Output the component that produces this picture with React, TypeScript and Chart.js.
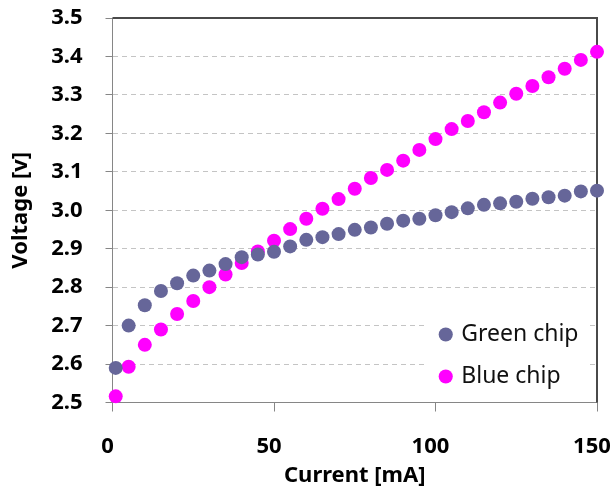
import React, { useEffect, useRef } from "react";
import { Chart, registerables } from "chart.js";

Chart.register(...registerables);

// ---- data ----
const currentMA = [1, 5, 10, 15, 20, 25, 30, 35, 40, 45, 50, 55, 60, 65, 70, 75, 80, 85, 90, 95, 100, 105, 110, 115, 120, 125, 130, 135, 140, 145, 150];
const greenChip = [2.59, 2.70, 2.753, 2.79, 2.81, 2.83, 2.843, 2.86, 2.878, 2.885, 2.892, 2.906, 2.923, 2.930, 2.938, 2.949, 2.955, 2.965, 2.973, 2.978, 2.987, 2.995, 3.005, 3.014, 3.018, 3.022, 3.030, 3.034, 3.038, 3.049, 3.051];
const blueChip = [2.516, 2.593, 2.65, 2.69, 2.73, 2.764, 2.80, 2.833, 2.863, 2.893, 2.921, 2.951, 2.978, 3.004, 3.029, 3.056, 3.084, 3.105, 3.129, 3.157, 3.185, 3.211, 3.232, 3.255, 3.280, 3.303, 3.323, 3.346, 3.368, 3.391, 3.412];
const seriesLabels = ["Green chip", "Blue chip"];
const xAxisTitle = "Current [mA]";
const yAxisTitle = "Voltage [v]";
const xRange = [0, 150];
const xStep = 50;
const yRange = [2.5, 3.5];
const yStep = 0.1;

// ---- styles ----
const FONT = "'Noto Sans', 'DejaVu Sans', sans-serif";
const GREEN = "#666699";
const MAGENTA = "#ff00ff";
const AXIS = "#868686";
const GRID = "#c4c4c4";
const FRAME = "#4a4a4a";

const framePlugin = {
  id: "frame",
  beforeDatasetsDraw(chart: any) {
    const { ctx, chartArea: a } = chart;
    ctx.save();
    ctx.strokeStyle = FRAME;
    ctx.lineWidth = 2;
    ctx.beginPath();
    ctx.moveTo(a.left, Math.round(a.top));
    ctx.lineTo(Math.round(a.right), Math.round(a.top));
    ctx.lineTo(Math.round(a.right), a.bottom);
    ctx.stroke();
    ctx.restore();
  },
};

const legendPlacer = {
  id: "legendPlacer",
  afterLayout(chart: any) {
    const lg = chart.legend;
    if (!lg || !lg.columnSizes || !lg.columnSizes.length) return;
    const a = chart.chartArea;
    const pad = lg.options.labels.padding;
    const col = lg.columnSizes[0];
    const x = a.right - col.width - 18.5;
    const y = a.bottom - 14.5 - (col.height - pad);
    lg.left = x - pad;
    lg.top = y - pad;
    lg.right = chart.width;
    lg.bottom = chart.height;
    lg.width = lg.right - lg.left;
    lg.height = lg.bottom - lg.top;
    if (!lg._bgWrapped) {
      const orig = lg.draw;
      lg.draw = function (ca: any) {
        const c = this.ctx;
        const cs = this.columnSizes[0];
        const p = this.options.labels.padding;
        const lx = this.left + p;
        const ly = this.top + p;
        c.save();
        c.fillStyle = "#ffffff";
        c.fillRect(lx - 16, ly - 10, cs.width + 24.5, cs.height - p + 18);
        c.restore();
        orig.call(this, ca);
      };
      lg._bgWrapped = true;
    }
  },
};

export default function App() {
  const ref = useRef<HTMLCanvasElement>(null);

  useEffect(() => {
    const canvas = ref.current;
    if (!canvas) return;
    const chart = new Chart(canvas, {
      type: "scatter",
      data: {
        datasets: [
          {
            label: seriesLabels[0],
            data: currentMA.map((x, i) => ({ x, y: greenChip[i] })),
            backgroundColor: GREEN,
            borderColor: GREEN,
            pointRadius: 7,
            pointBorderWidth: 0,
            pointHoverRadius: 7,
            clip: false,
          } as any,
          {
            label: seriesLabels[1],
            data: currentMA.map((x, i) => ({ x, y: blueChip[i] })),
            backgroundColor: MAGENTA,
            borderColor: MAGENTA,
            pointRadius: 7,
            pointBorderWidth: 0,
            pointHoverRadius: 7,
            clip: false,
          } as any,
        ],
      },
      options: {
        responsive: false,
        animation: false,
        devicePixelRatio: 1,
        events: [],
        layout: { padding: { top: 18, right: 17, left: 0, bottom: 0 } },
        plugins: {
          tooltip: { enabled: false },
          legend: {
            position: "chartArea" as any,
            align: "start",
            labels: {
              usePointStyle: true,
              pointStyle: "circle",
              boxWidth: 8,
              boxHeight: 10,
              padding: 19,
              color: "#111111",
              font: { family: FONT, size: 23, weight: "normal" },
            },
          },
        },
        scales: {
          x: {
            type: "linear",
            min: xRange[0],
            max: xRange[1],
            ticks: {
              stepSize: xStep,
              color: "#000000",
              padding: 22,
              labelOffset: -5,
              font: { family: FONT, size: 22, weight: "bold" },
            },
            grid: {
              drawOnChartArea: false,
              drawTicks: true,
              tickLength: 9,
              tickColor: AXIS,
              color: AXIS,
            },
            border: { display: true, color: AXIS, width: 1 },
            title: {
              display: true,
              text: xAxisTitle,
              color: "#000000",
              padding: { top: 0, bottom: 7 },
              font: { family: FONT, size: 22, weight: "bold" },
            },
            afterFit: (s: any) => {
              s.height = 93.5;
              s.paddingLeft = 0;
              s.paddingRight = 0;
            },
          },
          y: {
            type: "linear",
            min: yRange[0],
            max: yRange[1],
            ticks: {
              stepSize: yStep,
              color: "#000000",
              padding: 23,
              font: { family: FONT, size: 22, weight: "bold" },
              callback: (v: any) => Number(v).toFixed(1),
            },
            grid: {
              drawOnChartArea: true,
              drawTicks: true,
              tickLength: 7,
              tickColor: AXIS,
              lineWidth: 1,
              color: (c: any) => {
                const v = c.tick ? c.tick.value : 0;
                if (Math.abs(v - yRange[0]) < 1e-6 || Math.abs(v - yRange[1]) < 1e-6) return "rgba(0,0,0,0)";
                return GRID;
              },
            },
            border: { display: true, color: AXIS, width: 1, dash: [5, 4] },
            title: {
              display: true,
              text: yAxisTitle,
              color: "#000000",
              padding: { top: 8, bottom: 0 },
              font: { family: FONT, size: 22, weight: "bold" },
            },
            afterFit: (s: any) => {
              s.width = 112.5;
              s.paddingTop = 0;
              s.paddingBottom = 0;
            },
          },
        },
      },
      plugins: [framePlugin, legendPlacer],
    });
    return () => chart.destroy();
  }, []);

  return (
    <div style={{ position: "fixed", left: 0, top: 0, width: 614, height: 496, background: "#ffffff" }}>
      <canvas ref={ref} width={614} height={496} style={{ width: 614, height: 496, display: "block" }} />
    </div>
  );
}
